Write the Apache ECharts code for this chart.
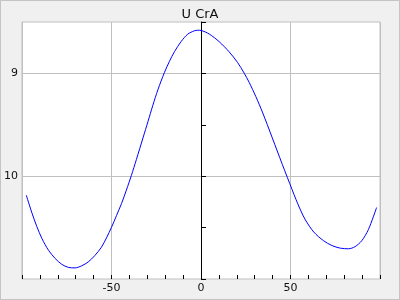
<!DOCTYPE html>
<html><head><meta charset="utf-8">
<script src="https://cdn.jsdelivr.net/npm/echarts@6/dist/echarts.min.js"></script>
<style>html,body{margin:0;padding:0;background:#f0f0f0}#c{width:400px;height:300px;box-sizing:border-box;border:1px solid #c4c4c4}</style>
</head><body><div id="c"></div>
<script>
const title = 'U CrA';
const phase = [-97.6,-94.4,-91.7,-88.9,-85.2,-81.5,-77.8,-74.1,-70.4,-66.7,-63,-59.3,-55.6,-52.8,-50,-47.2,-44.4,-41.7,-38.9,-36.1,-32.4,-29.6,-26.9,-24.1,-20.4,-17.6,-14.8,-11.1,-7.4,-3.7,-1.8,0,4.6,10.2,15.7,20.4,24.1,26.9,30.6,34.3,37,39.8,42.6,45.4,48.2,50.9,53.1,55.6,58.3,63,68.5,73.1,77.8,82.4,86.1,89.8,93.5,98.1];
const mag = [10.185,10.36,10.49,10.605,10.72,10.80,10.857,10.887,10.892,10.872,10.834,10.772,10.69,10.6,10.497,10.383,10.266,10.136,9.993,9.838,9.627,9.467,9.31,9.16,8.99,8.882,8.788,8.69,8.618,8.586,8.58,8.582,8.617,8.692,8.79,8.893,8.997,9.087,9.224,9.376,9.497,9.626,9.755,9.884,10.01,10.131,10.228,10.33,10.425,10.543,10.628,10.674,10.70,10.706,10.685,10.628,10.52,10.305];
const xTicks = {min:-100, max:100, interval:50};
const yTicks = {min:8.5, max:11, interval:0.5};

const chart = echarts.init(document.getElementById('c'), null, {renderer:'canvas'});
chart.setOption({
  backgroundColor:'#f0f0f0',
  animation:false,
  title:{text:title,left:'center',top:2,textStyle:{fontFamily:'DejaVu Sans',fontSize:13,fontWeight:'normal',color:'#111'}},
  grid:{left:20,right:19,top:21,bottom:20,show:true,backgroundColor:'#fff',borderColor:'#c0c0c0',borderWidth:1},
  xAxis:{type:'value',min:xTicks.min,max:xTicks.max,interval:xTicks.interval,
    axisLine:{show:false},
    axisTick:{show:true,inside:true,length:4,lineStyle:{color:'#000'}},
    minorTick:{show:true,splitNumber:5,length:4,lineStyle:{color:'#000'}},
    axisLabel:{showMinLabel:false,showMaxLabel:false,margin:4,fontFamily:'DejaVu Sans',fontSize:11,color:'#111'},
    splitLine:{show:true,lineStyle:{color:'#c0c0c0',width:1}}},
  yAxis:{type:'value',inverse:true,min:yTicks.min,max:yTicks.max,interval:yTicks.interval,
    axisLine:{show:true,onZero:true,lineStyle:{color:'#000',width:1}},
    axisTick:{show:true,inside:true,length:5,lineStyle:{color:'#000'}},
    axisLabel:{margin:4,fontFamily:'DejaVu Sans',fontSize:11,color:'#111',
      formatter:v=>(Math.abs(v-Math.round(v))<1e-6 && v>8.6 && v<10.9)?String(Math.round(v)):''},
    splitLine:{show:true,lineStyle:{color:['transparent','#c0c0c0','transparent','#c0c0c0','transparent','transparent'],width:1}}},
  series:[{type:'line',data:phase.map((p,i)=>[p,mag[i]]),showSymbol:false,smooth:0.3,
    lineStyle:{color:'#0000ff',width:1},clip:true}]
});
</script></body></html>
